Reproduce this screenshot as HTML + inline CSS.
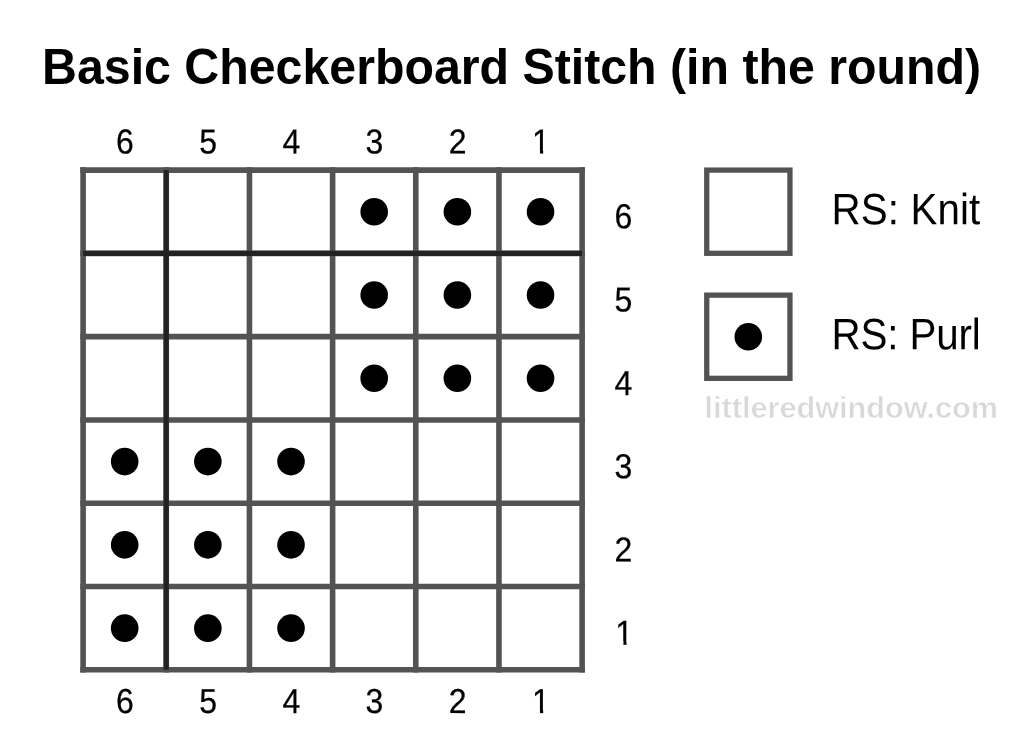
<!DOCTYPE html>
<html><head><meta charset="utf-8"><title>Basic Checkerboard Stitch (in the round)</title>
<style>
html,body{margin:0;padding:0;background:#fff;}
body{width:1024px;height:753px;overflow:hidden;position:relative;font-family:"Liberation Sans",sans-serif;}
svg{position:absolute;left:0;top:0;will-change:transform;}
text{font-family:"Liberation Sans",sans-serif;}
.t{font-weight:bold;font-size:48.3px;fill:#000;}
.n{font-size:32px;fill:#000;text-anchor:middle;stroke:#000;stroke-width:0.22px;}
.l{font-size:40.3px;fill:#000;}
.w{font-weight:bold;font-size:30px;fill:#d8d8d8;stroke:#fff;stroke-width:0.55px;}
</style></head><body>
<svg width="1024" height="753" viewBox="0 0 1024 753">
<rect width="1024" height="753" fill="#fff"/>
<defs><clipPath id="one"><path d="M-14,-32H14V-3.4H2.4V3H-0.8V-3.4H-14Z"/></clipPath></defs>
<text class="t" transform="translate(42.1,84.0) scale(1,1.03) rotate(0.02)">Basic Checkerboard Stitch (in the round)</text>
<line x1="83.10" y1="167.30" x2="83.10" y2="672.58" stroke="#535353" stroke-width="5.6"/>
<line x1="166.27" y1="167.30" x2="166.27" y2="672.58" stroke="#535353" stroke-width="5.6"/>
<line x1="249.44" y1="167.30" x2="249.44" y2="672.58" stroke="#535353" stroke-width="5.6"/>
<line x1="332.61" y1="167.30" x2="332.61" y2="672.58" stroke="#535353" stroke-width="5.6"/>
<line x1="415.78" y1="167.30" x2="415.78" y2="672.58" stroke="#535353" stroke-width="5.6"/>
<line x1="498.95" y1="167.30" x2="498.95" y2="672.58" stroke="#535353" stroke-width="5.6"/>
<line x1="582.12" y1="167.30" x2="582.12" y2="672.58" stroke="#535353" stroke-width="5.6"/>
<line x1="80.30" y1="170.10" x2="584.92" y2="170.10" stroke="#535353" stroke-width="5.6"/>
<line x1="80.30" y1="253.38" x2="584.92" y2="253.38" stroke="#535353" stroke-width="5.6"/>
<line x1="80.30" y1="336.66" x2="584.92" y2="336.66" stroke="#535353" stroke-width="5.6"/>
<line x1="80.30" y1="419.94" x2="584.92" y2="419.94" stroke="#535353" stroke-width="5.6"/>
<line x1="80.30" y1="503.22" x2="584.92" y2="503.22" stroke="#535353" stroke-width="5.6"/>
<line x1="80.30" y1="586.50" x2="584.92" y2="586.50" stroke="#535353" stroke-width="5.6"/>
<line x1="80.30" y1="669.78" x2="584.92" y2="669.78" stroke="#535353" stroke-width="5.6"/>
<line x1="166.17" y1="170.10" x2="166.17" y2="669.78" stroke="#222222" stroke-width="5.2"/>
<line x1="83.10" y1="253.38" x2="582.12" y2="253.38" stroke="#222222" stroke-width="5.2"/>
<circle cx="374.20" cy="211.74" r="13.8" fill="#000"/>
<circle cx="457.37" cy="211.74" r="13.8" fill="#000"/>
<circle cx="540.53" cy="211.74" r="13.8" fill="#000"/>
<circle cx="374.20" cy="295.02" r="13.8" fill="#000"/>
<circle cx="457.37" cy="295.02" r="13.8" fill="#000"/>
<circle cx="540.53" cy="295.02" r="13.8" fill="#000"/>
<circle cx="374.20" cy="378.30" r="13.8" fill="#000"/>
<circle cx="457.37" cy="378.30" r="13.8" fill="#000"/>
<circle cx="540.53" cy="378.30" r="13.8" fill="#000"/>
<circle cx="124.69" cy="461.58" r="13.8" fill="#000"/>
<circle cx="207.85" cy="461.58" r="13.8" fill="#000"/>
<circle cx="291.02" cy="461.58" r="13.8" fill="#000"/>
<circle cx="124.69" cy="544.86" r="13.8" fill="#000"/>
<circle cx="207.85" cy="544.86" r="13.8" fill="#000"/>
<circle cx="291.02" cy="544.86" r="13.8" fill="#000"/>
<circle cx="124.69" cy="628.14" r="13.8" fill="#000"/>
<circle cx="207.85" cy="628.14" r="13.8" fill="#000"/>
<circle cx="291.02" cy="628.14" r="13.8" fill="#000"/>
<text class="n" transform="translate(124.94,153.5) scale(1,1.083) rotate(0.05)">6</text>
<text class="n" transform="translate(124.94,712.9) scale(1,1.083) rotate(0.05)">6</text>
<text class="n" transform="translate(208.10,153.5) scale(1,1.083) rotate(0.05)">5</text>
<text class="n" transform="translate(208.10,712.9) scale(1,1.083) rotate(0.05)">5</text>
<text class="n" transform="translate(291.27,153.5) scale(1,1.083) rotate(0.05)">4</text>
<text class="n" transform="translate(291.27,712.9) scale(1,1.083) rotate(0.05)">4</text>
<text class="n" transform="translate(374.45,153.5) scale(1,1.083) rotate(0.05)">3</text>
<text class="n" transform="translate(374.45,712.9) scale(1,1.083) rotate(0.05)">3</text>
<text class="n" transform="translate(457.62,153.5) scale(1,1.083) rotate(0.05)">2</text>
<text class="n" transform="translate(457.62,712.9) scale(1,1.083) rotate(0.05)">2</text>
<text class="n" clip-path="url(#one)" transform="translate(540.78,153.5) scale(1,1.083) rotate(0.05)">1</text>
<text class="n" clip-path="url(#one)" transform="translate(540.78,712.9) scale(1,1.083) rotate(0.05)">1</text>
<text class="n" transform="translate(623.50,228.34) scale(1,1.083) rotate(0.05)">6</text>
<text class="n" transform="translate(623.50,311.62) scale(1,1.083) rotate(0.05)">5</text>
<text class="n" transform="translate(623.50,394.90) scale(1,1.083) rotate(0.05)">4</text>
<text class="n" transform="translate(623.50,478.18) scale(1,1.083) rotate(0.05)">3</text>
<text class="n" transform="translate(623.50,561.46) scale(1,1.083) rotate(0.05)">2</text>
<text class="n" clip-path="url(#one)" transform="translate(624.20,644.74) scale(1,1.083) rotate(0.05)">1</text>
<rect x="706.75" y="170.1" width="83.2" height="83.2" fill="#fff" stroke="#535353" stroke-width="5.3"/>
<rect x="706.75" y="295.15" width="83.2" height="83.2" fill="#fff" stroke="#535353" stroke-width="5.3"/>
<circle cx="748.3" cy="336.75" r="13.8" fill="#000"/>
<text class="l" style="letter-spacing:0.12px" transform="translate(831.6,224.2) scale(1,1.09) rotate(0.03)">RS: Knit</text>
<text class="l" style="letter-spacing:-0.12px" transform="translate(831.6,349.2) scale(1,1.09) rotate(0.03)">RS: Purl</text>
<text class="w" x="704.5" y="418" textLength="293.5" lengthAdjust="spacingAndGlyphs">littleredwindow.com</text>
</svg></body></html>
